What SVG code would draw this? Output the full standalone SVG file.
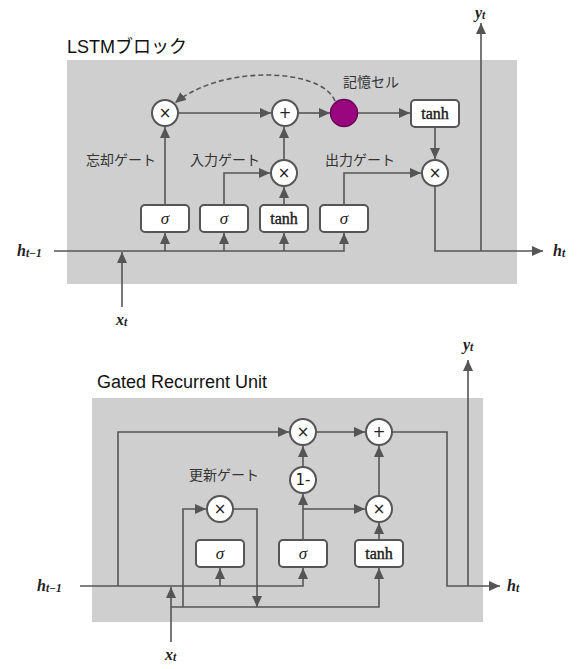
<svg xmlns="http://www.w3.org/2000/svg" width="581" height="669" viewBox="0 0 581 669">
<defs>
<marker id="arr" markerUnits="userSpaceOnUse" markerWidth="12" markerHeight="11" refX="11" refY="5" orient="auto">
<path d="M0,0 L11,5 L0,10 z" fill="#555"/>
</marker>
<style>
.bg{fill:#cfcfcf}
.ln{fill:none;stroke:#555;stroke-width:1.6}
.ar{marker-end:url(#arr)}
.dash{stroke-dasharray:5 3}
.op{fill:#fff;stroke:#555;stroke-width:2}
.bx{fill:#fff;stroke:#555;stroke-width:2}
.mem{fill:#9a0680;stroke:#6a0457;stroke-width:1.5}
.sym{font-family:"DejaVu Sans","Liberation Sans",sans-serif;font-size:15px;fill:#222;text-anchor:middle;dominant-baseline:central}
.sig{font-family:"Liberation Serif",serif;font-style:italic;font-size:17px;fill:#222;text-anchor:middle;dominant-baseline:central}
.tanh{font-family:"Liberation Serif",serif;font-size:16px;fill:#222;stroke:#222;stroke-width:0.4;text-anchor:middle;dominant-baseline:central}
.math{font-family:"Liberation Serif",serif;font-style:italic;font-weight:bold;font-size:16px;fill:#222;dominant-baseline:central}
.sub{font-size:11.5px}
.jp{font-family:"Liberation Sans","Noto Sans CJK JP",sans-serif;font-size:14px;fill:#333;text-anchor:middle;dominant-baseline:central}
.title{font-family:"Liberation Sans","Noto Sans CJK JP",sans-serif;font-size:18px;fill:#111}
</style>
</defs>

<!-- LSTM block -->
<rect class="bg" x="67" y="60" width="450" height="224"/>
<text class="title" x="67" y="53">LSTMブロック</text>

<g id="lstm-connectors">
<path class="ln ar" d="M54,251 H344 V233"/>
<path class="ln ar" d="M165,251 V233"/>
<path class="ln ar" d="M224,251 V233"/>
<path class="ln ar" d="M284,251 V233"/>
<path class="ln ar" d="M122,307 V252"/>
<path class="ln ar" d="M165,205 V127"/>
<path class="ln ar" d="M224,205 V173 H270"/>
<path class="ln ar" d="M284,205 V187"/>
<path class="ln ar" d="M284,160 V127"/>
<path class="ln ar" d="M344,205 V173 H421"/>
<path class="ln ar" d="M178,113 H271"/>
<path class="ln ar" d="M298,113 H330"/>
<path class="ln ar" d="M357,113 H410"/>
<path class="ln ar" d="M435,127 V159"/>
<path class="ln ar" d="M435,186 V251 H543"/>
<path class="ln ar" d="M481,251 V23"/>
<path class="ln dash ar" d="M335,101 C322,68 222,64 175,103"/>
</g>

<g id="lstm-forget-mul"><circle class="op" cx="165" cy="113" r="13"/><text class="sym" x="165" y="113">×</text></g>
<g id="lstm-add"><circle class="op" cx="285" cy="113" r="13"/><text class="sym" x="285" y="113">+</text></g>
<g id="lstm-memory-cell"><circle class="mem" cx="344" cy="113" r="13.5"/></g>
<g id="lstm-tanh-out"><rect class="bx" x="411" y="100" width="48" height="27" rx="4"/><text class="tanh" x="435" y="113">tanh</text></g>
<g id="lstm-input-mul"><circle class="op" cx="284" cy="173" r="13"/><text class="sym" x="284" y="173">×</text></g>
<g id="lstm-output-mul"><circle class="op" cx="435" cy="173" r="13"/><text class="sym" x="435" y="173">×</text></g>
<g id="lstm-sigma-forget"><rect class="bx" x="141" y="205" width="48" height="27" rx="4"/><text class="sig" x="165" y="218">σ</text></g>
<g id="lstm-sigma-input"><rect class="bx" x="200" y="205" width="48" height="27" rx="4"/><text class="sig" x="224" y="218">σ</text></g>
<g id="lstm-tanh-in"><rect class="bx" x="260" y="205" width="48" height="27" rx="4"/><text class="tanh" x="284" y="218">tanh</text></g>
<g id="lstm-sigma-output"><rect class="bx" x="320" y="205" width="48" height="27" rx="4"/><text class="sig" x="344" y="218">σ</text></g>

<g id="lstm-labels">
<text class="jp" x="121" y="160">忘却ゲート</text>
<text class="jp" x="225" y="160">入力ゲート</text>
<text class="jp" x="360" y="160">出力ゲート</text>
<text class="jp" x="371" y="82">記憶セル</text>
<text class="math" x="17" y="250">h<tspan class="sub" dy="3">t−1</tspan></text>
<text class="math" x="553" y="250">h<tspan class="sub" dy="3">t</tspan></text>
<text class="math" x="475" y="12">y<tspan class="sub" dy="3">t</tspan></text>
<text class="math" x="116" y="319">x<tspan class="sub" dy="3">t</tspan></text>
</g>

<!-- GRU block -->
<rect class="bg" x="92" y="398" width="391" height="224"/>
<text class="title" x="97" y="388" font-size="17.5">Gated Recurrent Unit</text>

<g id="gru-connectors">
<path class="ln ar" d="M80,586 H303 V568"/>
<path class="ln ar" d="M220,586 V568"/>
<path class="ln ar" d="M118,586 V432 H289"/>
<path class="ln ar" d="M171,642 V587"/>
<path class="ln ar" d="M171,607 H379 V568"/>
<path class="ln ar" d="M183,607 V509 H206"/>
<path class="ln ar" d="M233,509 H257 V607"/>
<path class="ln ar" d="M303,540 V494"/>
<path class="ln ar" d="M303,509 H365"/>
<path class="ln ar" d="M379,540 V523"/>
<path class="ln ar" d="M379,496 V446"/>
<path class="ln ar" d="M303,467 V446"/>
<path class="ln ar" d="M316,432 H365"/>
<path class="ln ar" d="M392,432 H447 V586 H500"/>
<path class="ln ar" d="M468,586 V360"/>
</g>

<g id="gru-top-mul"><circle class="op" cx="303" cy="432" r="13"/><text class="sym" x="303" y="432">×</text></g>
<g id="gru-add"><circle class="op" cx="379" cy="432" r="13"/><text class="sym" x="379" y="432">+</text></g>
<g id="gru-one-minus"><circle class="op" cx="303" cy="480" r="13"/><text class="sym" x="303" y="480" font-family="Liberation Sans, sans-serif" font-size="16">1-</text></g>
<g id="gru-reset-mul"><circle class="op" cx="220" cy="509" r="13"/><text class="sym" x="220" y="509">×</text></g>
<g id="gru-cand-mul"><circle class="op" cx="379" cy="509" r="13"/><text class="sym" x="379" y="509">×</text></g>
<g id="gru-sigma-reset"><rect class="bx" x="196" y="540" width="48" height="27" rx="4"/><text class="sig" x="220" y="553">σ</text></g>
<g id="gru-sigma-update"><rect class="bx" x="279" y="540" width="48" height="27" rx="4"/><text class="sig" x="303" y="553">σ</text></g>
<g id="gru-tanh"><rect class="bx" x="355" y="540" width="48" height="27" rx="4"/><text class="tanh" x="379" y="553">tanh</text></g>

<g id="gru-labels">
<text class="jp" x="224" y="475">更新ゲート</text>
<text class="math" x="37" y="585">h<tspan class="sub" dy="3">t−1</tspan></text>
<text class="math" x="507" y="585">h<tspan class="sub" dy="3">t</tspan></text>
<text class="math" x="463" y="344">y<tspan class="sub" dy="3">t</tspan></text>
<text class="math" x="165" y="654">x<tspan class="sub" dy="3">t</tspan></text>
</g>
</svg>
